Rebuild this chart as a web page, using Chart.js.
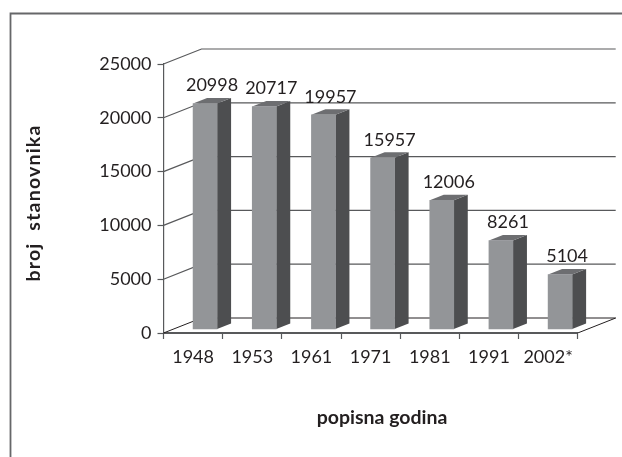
<!DOCTYPE html>
<html>
<head>
<meta charset="utf-8">
<style>
  html, body { margin: 0; padding: 0; background: #fff; }
  #wrap { position: relative; width: 622px; height: 457px; }
</style>
<script src="https://cdn.jsdelivr.net/npm/chart.js@4/dist/chart.umd.min.js"></script>
</head>
<body>
<div id="wrap"><canvas id="chart"></canvas></div>
<script>
const years = ["1948", "1953", "1961", "1971", "1981", "1991", "2002*"];
const population = [20998, 20717, 19957, 15957, 12006, 8261, 5104];
const yTicks = [0, 5000, 10000, 15000, 20000, 25000];

const DEPTH_X = 38; // how far the back wall sits from the axes
const DEPTH_Y = 15;
const BAR_DX = 12; // bars stand in the middle of the floor
const BAR_DY = 3.5;
const SIDE_X = 14; // depth of each bar
const SIDE_Y = 5.5;

const pseudo3d = {
  id: "pseudo3d",
  beforeDatasetsDraw(chart) {
    const { ctx, chartArea, scales } = chart;
    ctx.save();
    // walls: diagonal from each tick, then a line along the back
    yTicks.forEach((v) => {
      const y = scales.y.getPixelForValue(v);
      ctx.beginPath();
      ctx.moveTo(chartArea.left, y);
      ctx.lineTo(chartArea.left + DEPTH_X, y - DEPTH_Y);
      ctx.lineTo(chartArea.right + DEPTH_X, y - DEPTH_Y);
      if (v === 0) ctx.lineTo(chartArea.right, y);
      ctx.strokeStyle = v === 0 ? "#231f20" : "#58595b";
      ctx.lineWidth = v === 0 ? 1 : 1.2;
      ctx.stroke();
    });
    ctx.restore();
  },
  beforeDatasetDraw(chart, args) {
    const { ctx } = chart;
    ctx.save();
    ctx.translate(BAR_DX, -BAR_DY);
    // side and top of each bar, the front is drawn by the library
    args.meta.data.forEach((el) => {
      const l = el.x - el.width / 2;
      const r = el.x + el.width / 2;
      ctx.fillStyle = "#4d4e50";
      ctx.beginPath();
      ctx.moveTo(r, el.y);
      ctx.lineTo(r + SIDE_X, el.y - SIDE_Y);
      ctx.lineTo(r + SIDE_X, el.base - SIDE_Y);
      ctx.lineTo(r, el.base);
      ctx.closePath();
      ctx.fill();
      ctx.fillStyle = "#6d6e71";
      ctx.beginPath();
      ctx.moveTo(l, el.y);
      ctx.lineTo(l + SIDE_X, el.y - SIDE_Y);
      ctx.lineTo(r + SIDE_X, el.y - SIDE_Y);
      ctx.lineTo(r, el.y);
      ctx.closePath();
      ctx.fill();
    });
  },
  afterDatasetDraw(chart) {
    chart.ctx.restore();
  },
  afterDatasetsDraw(chart) {
    const { ctx } = chart;
    ctx.save();
    // value labels
    ctx.font = "18px Lato";
    ctx.fillStyle = "#231f20";
    ctx.textAlign = "center";
    ctx.textBaseline = "middle";
    chart.getDatasetMeta(0).data.forEach((el, i) => {
      ctx.fillText(String(population[i]), el.x + BAR_DX + 7, el.y - BAR_DY - 18);
    });
    // axis titles, they sit off centre so the scale titles can't be used
    ctx.font = "bold 19.5px Lato";
    ctx.fillText("popisna godina", 382, 418);
    ctx.save();
    ctx.translate(34, 203);
    ctx.rotate(-Math.PI / 2);
    ctx.letterSpacing = "1.2px";
    ctx.fillText("broj  stanovnika", 0, 0);
    ctx.restore();
    // frame around the figure, only top and left are there
    ctx.strokeStyle = "#666769";
    ctx.lineWidth = 1.8;
    ctx.beginPath();
    ctx.moveTo(622, 13.5);
    ctx.lineTo(10.5, 13.5);
    ctx.lineTo(10.5, 457);
    ctx.stroke();
    ctx.restore();
  },
};

new Chart(document.getElementById("chart"), {
  type: "bar",
  data: {
    labels: years,
    datasets: [
      {
        data: population,
        backgroundColor: "#939598",
        borderWidth: 0,
        barThickness: 24,
        clip: false,
      },
    ],
  },
  options: {
    responsive: true,
    maintainAspectRatio: false,
    animation: false,
    layout: { padding: { left: 0, right: 44.3, top: 64, bottom: 0 } },
    plugins: { legend: { display: false }, tooltip: { enabled: false } },
    scales: {
      x: {
        afterFit(scale) {
          scale.height = 124;
        },
        grid: {
          offset: true,
          drawOnChartArea: false,
          tickLength: 6,
          tickColor: "#58595b",
          tickWidth: 1.2,
        },
        border: { color: "#58595b", width: 2 },
        ticks: {
          color: "#231f20",
          font: { family: "Lato", size: 18 },
          padding: 7,
          maxRotation: 0,
          autoSkip: false,
        },
      },
      y: {
        min: 0,
        max: 25000,
        afterFit(scale) {
          scale.width = 163.5;
        },
        afterBuildTicks(scale) {
          scale.ticks = yTicks.map((v) => ({ value: v }));
        },
        grid: {
          drawOnChartArea: false,
          tickLength: 6,
          tickColor: "#58595b",
          tickWidth: 1.2,
        },
        border: { color: "#58595b", width: 1.2 },
        ticks: {
          color: "#231f20",
          font: { family: "Lato", size: 18 },
          padding: 6,
          callback: (v) => String(v),
        },
      },
    },
  },
  plugins: [pseudo3d],
});
</script>
</body>
</html>
